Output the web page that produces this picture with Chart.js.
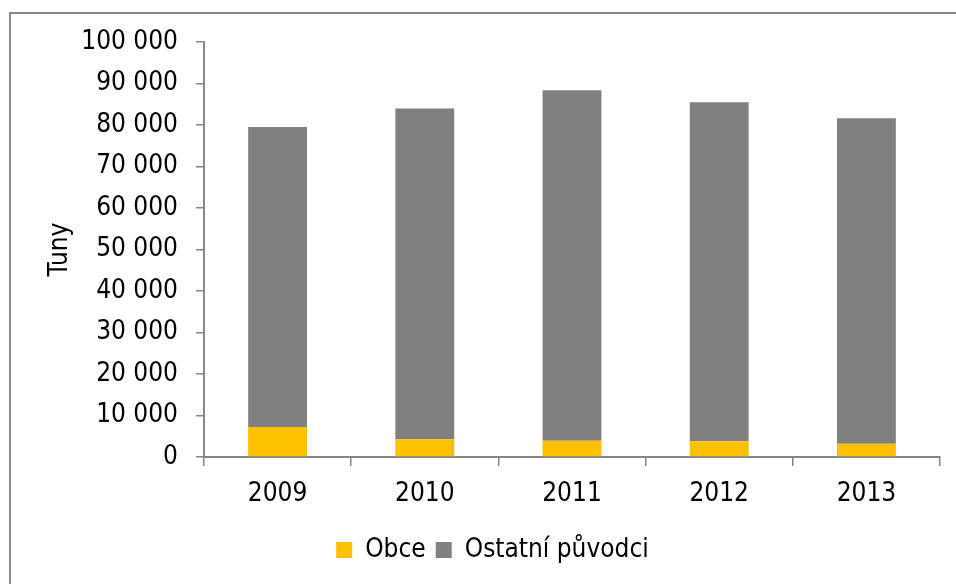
<!DOCTYPE html>
<html>
<head>
<meta charset="utf-8">
<script src="https://cdn.jsdelivr.net/npm/chart.js@4.4.1/dist/chart.umd.min.js"></script>
<style>
html, body { margin: 0; padding: 0; background: #fff; overflow: hidden; }
#wrap { position: relative; width: 956px; height: 584px; }
#frame { position: absolute; left: 9px; top: 12px; right: -20px; bottom: -20px; border: 2px solid #8a8a8a; pointer-events: none; }
</style>
</head>
<body>
<div id="wrap">
  <canvas id="chart"></canvas>
  <div id="frame"></div>
</div>
<script>
const years = ['2009', '2010', '2011', '2012', '2013'];
const obce = [7200, 4300, 3900, 3800, 3200];
const ostatni = [72300, 79700, 84500, 81700, 78400];
const yMax = 100000;
const yStep = 10000;

const axisColor = '#868686';

function formatThousands(v) {
    return String(v).replace(/\B(?=(\d{3})+(?!\d))/g, ' ');
}

Chart.defaults.font.family = '"DejaVu Sans Condensed", "DejaVu Sans", sans-serif';
Chart.defaults.font.size = 26;
Chart.defaults.color = '#000';

new Chart(document.getElementById('chart'), {
    type: 'bar',
    data: {
        labels: years,
        datasets: [
            {
                label: 'Obce',
                data: obce,
                backgroundColor: '#FFC000',
                categoryPercentage: 0.4,
                barPercentage: 1
            },
            {
                label: 'Ostatní původci',
                data: ostatni,
                backgroundColor: '#808080',
                categoryPercentage: 0.4,
                barPercentage: 1
            }
        ]
    },
    options: {
        responsive: true,
        maintainAspectRatio: false,
        animation: false,
        layout: {
            padding: { left: 45, right: 16, top: 42, bottom: 11 }
        },
        plugins: {
            legend: {
                position: 'bottom',
                labels: {
                    boxWidth: 16,
                    boxHeight: 16,
                    padding: 10
                }
            },
            tooltip: { enabled: false }
        },
        scales: {
            x: {
                stacked: true,
                grid: {
                    drawOnChartArea: false,
                    drawTicks: true,
                    tickLength: 9,
                    color: axisColor,
                    lineWidth: 1.5,
                    offset: true
                },
                border: { color: axisColor, width: 2 },
                ticks: { padding: 13 },
                afterFit: function (scale) { scale.height = 70; }
            },
            y: {
                stacked: true,
                min: 0,
                max: yMax,
                grid: {
                    drawOnChartArea: false,
                    drawTicks: true,
                    tickLength: 8,
                    color: axisColor,
                    lineWidth: 1.5
                },
                border: { color: axisColor, width: 2 },
                ticks: {
                    stepSize: yStep,
                    padding: 18,
                    callback: function (value) { return formatThousands(value); }
                },
                title: {
                    display: true,
                    text: 'Tuny',
                    padding: 0
                },
                afterFit: function (scale) { scale.width = 159; }
            }
        }
    }
});
</script>
</body>
</html>
